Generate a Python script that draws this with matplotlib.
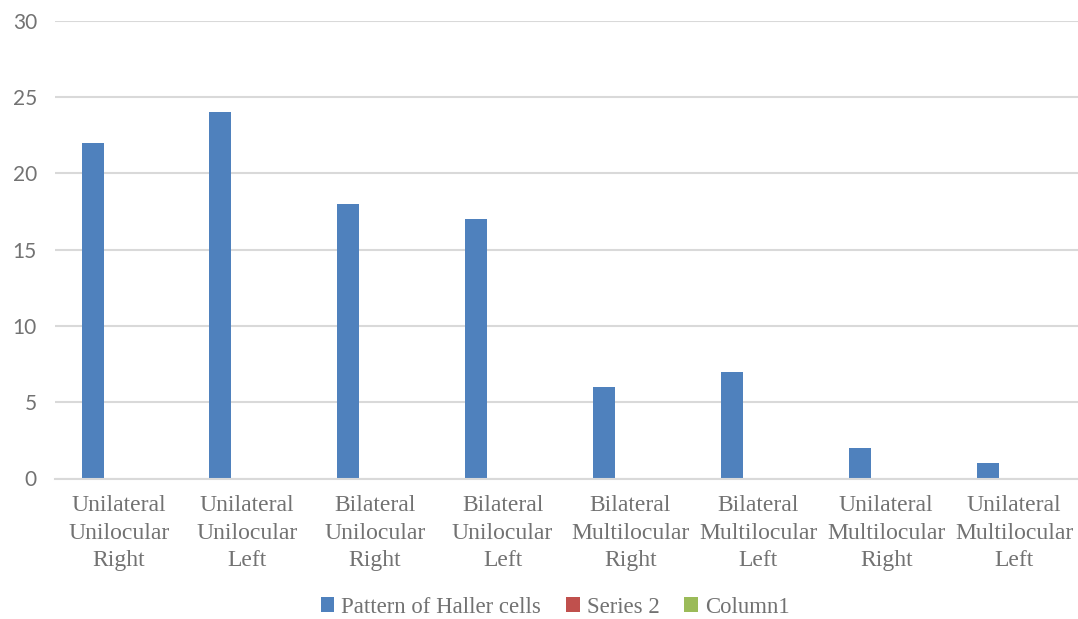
import matplotlib
matplotlib.use("Agg")
import matplotlib.pyplot as plt
from matplotlib.patches import Patch
import numpy as np

categories = [
    "Unilateral\nUnilocular\nRight",
    "Unilateral\nUnilocular\nLeft",
    "Bilateral\nUnilocular\nRight",
    "Bilateral\nUnilocular\nLeft",
    "Bilateral\nMultilocular\nRight",
    "Bilateral\nMultilocular\nLeft",
    "Unilateral\nMultilocular\nRight",
    "Unilateral\nMultilocular\nLeft",
]
haller_cells = [22, 24, 18, 17, 6, 7, 2, 1]
series_2 = [0, 0, 0, 0, 0, 0, 0, 0]
column_1 = [0, 0, 0, 0, 0, 0, 0, 0]
series_names = ["Pattern of Haller cells", "Series 2", "Column1"]
colors = ["#4F81BD", "#C0504D", "#9BBB59"]
y_ticks = [0, 5, 10, 15, 20, 25, 30]

text_grey = "#727272"
grid_grey = "#d9d9d9"
serif = "Liberation Serif"

fig = plt.figure(figsize=(10.78, 6.19), dpi=100)
ax = fig.add_axes([55 / 1078, 1 - 478.5 / 619, 1 - 55 / 1078, (478.5 - 20.7) / 619])

x = np.arange(len(categories))
w = 0.172
step = 0.206
for k, vals in enumerate([haller_cells, series_2, column_1]):
    ax.bar(x + (k - 1) * step, vals, width=w, color=colors[k], linewidth=0, zorder=3)

ax.set_xlim(-0.5, len(categories) - 0.5)
ax.set_ylim(0, 30)
ax.set_yticks(y_ticks)
ax.set_yticklabels([str(t) for t in y_ticks], family="Lato", fontsize=15, color=text_grey)
ax.set_xticks(x)
ax.set_xticklabels(categories, family=serif, fontsize=17,
                   color=text_grey, linespacing=1.4)
ax.tick_params(axis="both", length=0)
ax.tick_params(axis="y", pad=13)
ax.tick_params(axis="x", pad=12)

ax.grid(axis="y", color=grid_grey, linewidth=1.5, zorder=0)
for s in ["top", "right", "left"]:
    ax.spines[s].set_visible(False)
ax.spines["bottom"].set_color(grid_grey)
ax.spines["bottom"].set_linewidth(1.5)
ax.spines["bottom"].set_zorder(4)

handles = [Patch(facecolor=c, edgecolor="none") for c in colors]
fig.legend(handles, series_names, loc="center", bbox_to_anchor=(0.515, 0.019),
           ncol=3, frameon=False, handlelength=0.6, handleheight=0.6,
           handletextpad=0.3, columnspacing=1.1,
           prop={"family": serif, "size": 16.4}, labelcolor=text_grey)

fig.savefig("out.png", dpi=100)
